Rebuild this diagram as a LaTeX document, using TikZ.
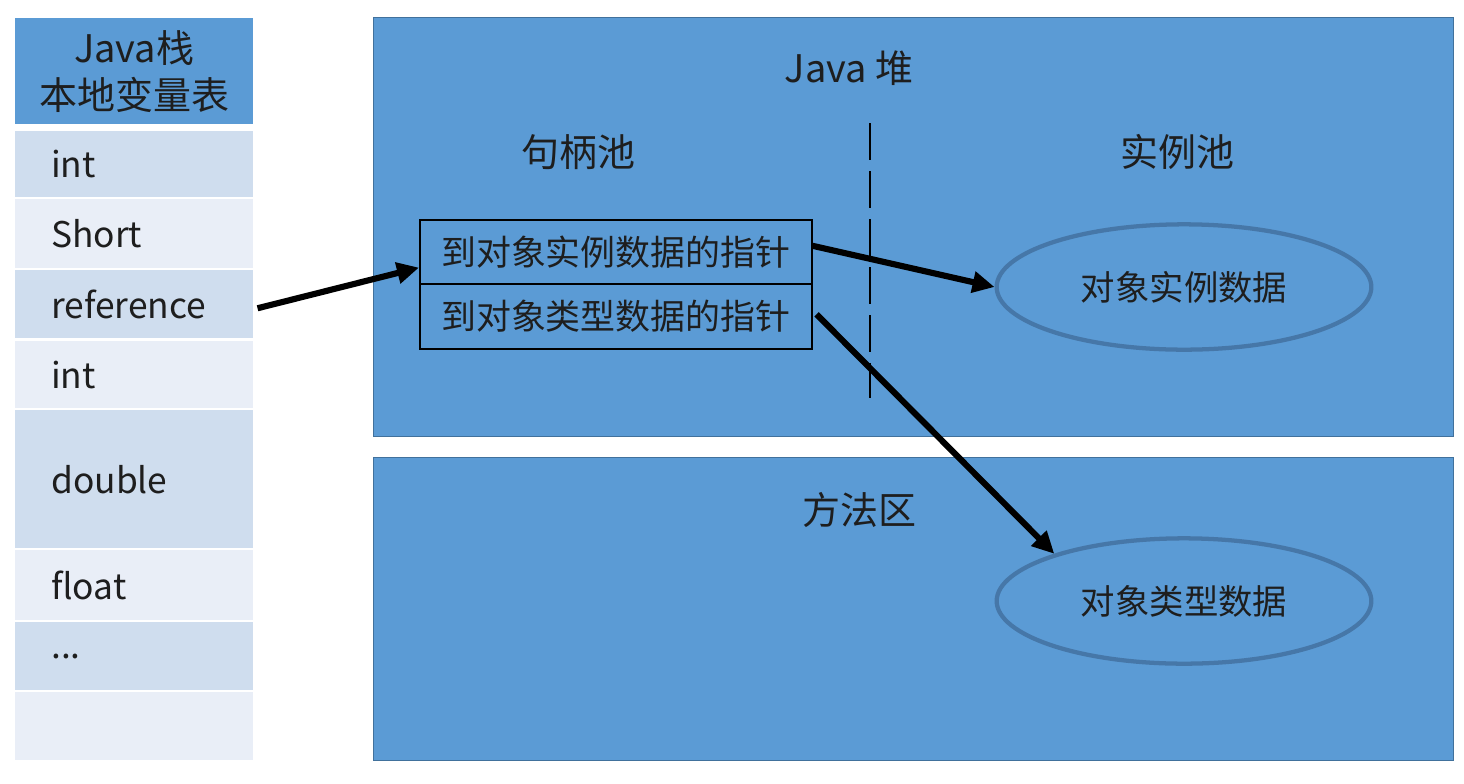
\documentclass[tikz,border=0pt]{standalone}
\usepackage{fontspec}
\setmainfont{Noto Sans CJK SC}
\usetikzlibrary{arrows.meta,shapes.geometric,calc}
\definecolor{hdr}{HTML}{5B9BD5}
\definecolor{rowdk}{HTML}{CFDDEE}
\definecolor{rowlt}{HTML}{E9EEF7}
\definecolor{bordc}{HTML}{41719C}
\definecolor{ellc}{HTML}{4677A8}
\definecolor{txt}{HTML}{1E1E1E}
\tikzset{
  cell/.style={rectangle, draw=none, anchor=north west, minimum width=178.5pt,
    text width=124.5pt, inner xsep=27pt, inner ysep=0pt, align=left,
    font=\fontsize{26.5}{30}\selectfont, text=txt},
  region/.style={rectangle, draw=bordc, line width=1pt, fill=hdr, anchor=north west,
    minimum width=810pt},
  lbl/.style={font=\fontsize{28.5}{32}\selectfont, text=txt, inner sep=0pt},
  ptr/.style={rectangle, draw=black, line width=1.2pt, anchor=north west,
    minimum width=294pt, inner sep=0pt, font=\fontsize{26.2}{28}\selectfont, text=txt},
  obj/.style={ellipse, draw=ellc, line width=3.2pt, minimum width=281pt,
    minimum height=94pt, inner sep=0pt, font=\fontsize{25.8}{28}\selectfont, text=txt},
  link/.style={draw=black, line width=4.6pt, -{Triangle[length=16.5pt,width=15.5pt]}},
}
\begin{document}
\begin{tikzpicture}[x=0.75pt,y=-0.75pt]
\useasboundingbox (0,0) rectangle (1464,783);
\fill[white] (0,0) rectangle (1464,783);

% Java stack
\node[rectangle, fill=hdr, anchor=north west, minimum width=178.5pt, minimum height=79.5pt,
  inner sep=0pt, align=center, text=txt, font=\fontsize{28.5}{35}\selectfont] (hd) at (15,18) {Java栈\\本地变量表};
\node[cell, fill=rowdk, minimum height=49.5pt]  (r1) at (15,131) {int};
\node[cell, fill=rowlt, minimum height=51.75pt] (r2) at (15,199) {Short};
\node[cell, fill=rowdk, minimum height=51pt]    (r3) at (15,270) {reference};
\node[cell, fill=rowlt, minimum height=50.25pt] (r4) at (15,341) {int};
\node[cell, fill=rowdk, minimum height=103.5pt] (r5) at (15,410) {double};
\node[cell, fill=rowlt, minimum height=52.5pt]  (r6) at (15,550) {float};
\node[cell, fill=rowdk, minimum height=51pt]    (r7) at (15,622) {...};
\node[cell, fill=rowlt, minimum height=51pt]    (r8) at (15,692) {};

% Heap and method area
\node[region, minimum height=314.25pt] (heap) at (373,17) {};
\node[region, minimum height=227.25pt] (meth) at (373,457) {};

\node[lbl] (heapT) at (849,68) {Java 堆};
\node[lbl] (poolA) at (578,152) {句柄池};
\node[lbl] (poolB) at (1177,152) {实例池};
\node[lbl] (methT) at (859,510) {方法区};

\coordinate (d1) at (870,123);
\coordinate (d2) at (870,398);
\draw[black, line width=2pt, dash pattern=on 28pt off 8pt] (d1) -- (d2);

\node[ptr, minimum height=48pt]    (p1) at (419,219) {到对象实例数据的指针};
\node[ptr, minimum height=48.75pt] (p2) at (419,283) {到对象类型数据的指针};

\node[obj] (e1) at (1184,287) {对象实例数据};
\node[obj] (e2) at (1184,601) {对象类型数据};

\draw[link] ($(r3.east)+(4,4)$) -- ($(p1.south west)+(0,-17)$);
\draw[link] ($(p1.east)+(0,-6)$) -- (e1.west);
\draw[link] ($(p2.east)+(4,-2)$) -- (e2.160);
\end{tikzpicture}
\end{document}
